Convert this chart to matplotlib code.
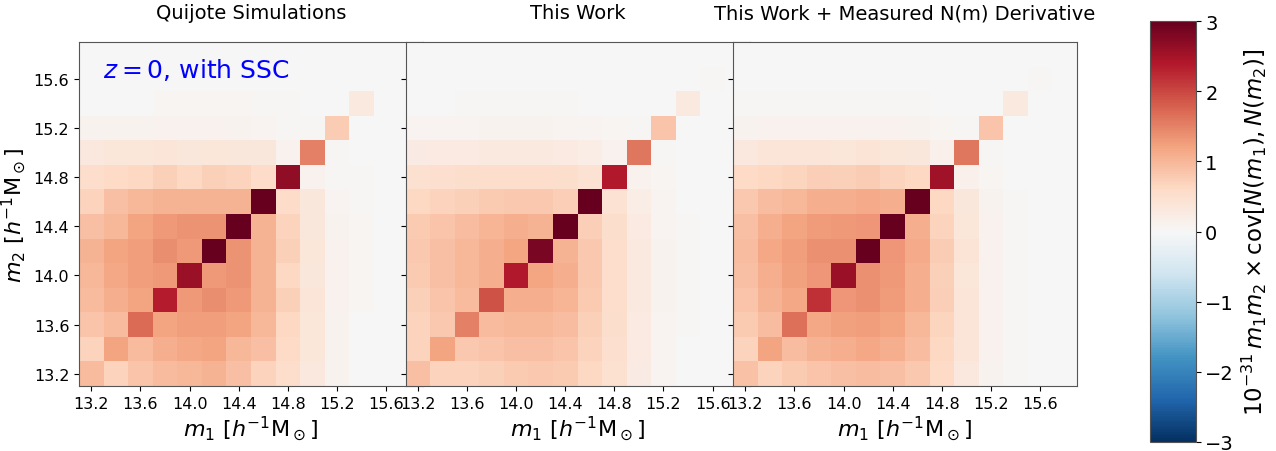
import numpy as np
import matplotlib
matplotlib.use('Agg')
import matplotlib.pyplot as plt

# === Mass bins (log10 m, h^-1 Msun) ===
bin_edges = [13.1, 13.3, 13.5, 13.7, 13.9, 14.1, 14.3, 14.5, 14.7, 14.9, 15.1, 15.3, 15.5, 15.7, 15.9]
tick_values = [13.2, 13.6, 14.0, 14.4, 14.8, 15.2, 15.6]
cbar_ticks = [-3, -2, -1, 0, 1, 2, 3]

panel_titles = ["Quijote Simulations", "This Work", "This Work + Measured N(m) Derivative"]

# lower triangle of each (symmetric) matrix: row i holds columns 0..i, last value is the diagonal
quijote_rows = [
    [0.95],
    [0.70, 1.20],
    [0.85, 0.95, 1.70],
    [0.95, 1.10, 1.20, 2.35],
    [1.00, 1.15, 1.25, 1.30, 2.60],
    [1.05, 1.20, 1.25, 1.40, 1.30, 3.40],
    [0.90, 1.00, 1.20, 1.30, 1.35, 1.35, 3.30],
    [0.70, 0.90, 1.00, 1.05, 1.05, 1.05, 1.05, 3.10],
    [0.55, 0.60, 0.62, 0.72, 0.62, 0.72, 0.68, 0.58, 2.65],
    [0.32, 0.36, 0.36, 0.38, 0.34, 0.36, 0.35, 0.35, 0.12, 1.50],
    [0.10, 0.10, 0.11, 0.12, 0.12, 0.12, 0.11, 0.08, 0.03, 0.04, 0.75],
    [0.02, 0.02, 0.02, 0.05, 0.05, 0.05, 0.05, 0.04, 0.03, 0.02, 0.00, 0.30],
    [0.00, 0.00, 0.00, 0.02, 0.02, 0.02, 0.02, 0.02, 0.01, 0.00, 0.00, 0.00, 0.02],
    [0.00, 0.00, 0.00, 0.00, 0.00, 0.00, 0.00, 0.00, 0.00, 0.00, 0.00, 0.00, 0.00, 0.00],
]

this_work_rows = [
    [0.90],
    [0.68, 1.20],
    [0.70, 0.80, 1.50],
    [0.72, 0.85, 0.95, 1.90],
    [0.78, 0.90, 1.00, 1.10, 2.40],
    [0.80, 0.90, 1.00, 1.10, 1.18, 2.85],
    [0.78, 0.86, 0.93, 1.03, 1.08, 1.05, 3.20],
    [0.62, 0.68, 0.72, 0.78, 0.82, 0.80, 0.74, 3.10],
    [0.48, 0.50, 0.52, 0.54, 0.56, 0.55, 0.52, 0.46, 2.40],
    [0.25, 0.27, 0.28, 0.29, 0.30, 0.29, 0.27, 0.22, 0.12, 1.60],
    [0.08, 0.09, 0.09, 0.10, 0.10, 0.10, 0.09, 0.08, 0.05, 0.03, 0.85],
    [0.02, 0.02, 0.03, 0.03, 0.03, 0.03, 0.03, 0.02, 0.02, 0.01, 0.01, 0.30],
    [0.01, 0.01, 0.01, 0.01, 0.01, 0.01, 0.01, 0.01, 0.00, 0.00, 0.00, 0.00, 0.04],
    [0.00, 0.00, 0.00, 0.00, 0.00, 0.00, 0.00, 0.00, 0.00, 0.00, 0.00, 0.00, 0.00, 0.01],
]

measured_rows = [
    [0.88],
    [0.70, 1.20],
    [0.78, 0.92, 1.65],
    [0.86, 1.05, 1.17, 2.20],
    [0.90, 1.10, 1.23, 1.32, 2.60],
    [0.92, 1.15, 1.25, 1.38, 1.37, 3.10],
    [0.90, 1.08, 1.20, 1.28, 1.30, 1.32, 3.30],
    [0.80, 0.92, 1.00, 1.10, 1.10, 1.13, 1.08, 3.10],
    [0.60, 0.63, 0.67, 0.73, 0.72, 0.77, 0.70, 0.62, 2.55],
    [0.32, 0.38, 0.38, 0.38, 0.37, 0.40, 0.37, 0.35, 0.15, 1.60],
    [0.10, 0.12, 0.12, 0.12, 0.12, 0.12, 0.12, 0.11, 0.06, 0.03, 0.85],
    [0.03, 0.03, 0.04, 0.04, 0.04, 0.04, 0.04, 0.03, 0.02, 0.01, 0.01, 0.30],
    [0.01, 0.01, 0.01, 0.01, 0.01, 0.01, 0.01, 0.01, 0.01, 0.01, 0.01, 0.01, 0.04],
    [0.00, 0.00, 0.00, 0.00, 0.00, 0.00, 0.00, 0.00, 0.00, 0.00, 0.00, 0.00, 0.00, 0.01],
]


def build_matrix(rows):
    n = len(rows)
    mat = np.zeros((n, n))
    for i, r in enumerate(rows):
        for j, v in enumerate(r):
            mat[i, j] = v
            mat[j, i] = v
    return mat


matrices = [build_matrix(quijote_rows), build_matrix(this_work_rows), build_matrix(measured_rows)]

# === Figure ===
W, H = 1276, 452
fig = plt.figure(figsize=(W / 100, H / 100), dpi=100)

# square panels, each one drawn over the right edge of the previous one
size = 344
lefts = [79, 405.5, 733]
bottom = (H - 387) / H
mass_label = r'$m_1\ [h^{-1}\mathrm{M}_\odot]$'

for k in range(3):
    ax = fig.add_axes([lefts[k] / W, bottom, size / W, size / H])
    mesh = ax.pcolormesh(bin_edges, bin_edges, matrices[k], cmap='RdBu_r', vmin=-3, vmax=3)
    ax.set_xlim(bin_edges[0], bin_edges[-1])
    ax.set_ylim(bin_edges[0], bin_edges[-1])
    ax.set_xticks(tick_values)
    ax.set_yticks(tick_values)
    ax.tick_params(labelsize=11.5)
    for s in ax.spines.values():
        s.set_edgecolor('#555555')
    ax.set_title(panel_titles[k], fontsize=14, pad=17)
    ax.set_xlabel(mass_label, fontsize=16, labelpad=2)
    if k == 0:
        ax.set_ylabel(r'$m_2\ [h^{-1}\mathrm{M}_\odot]$', fontsize=16, labelpad=4)
        ax.text(0.07, 0.921, r'$z = 0$, with SSC', transform=ax.transAxes,
                color='blue', fontsize=18, va='center', ha='left')
    else:
        ax.set_yticklabels([])

# === Colorbar ===
cax = fig.add_axes([1150 / W, (H - 443) / H, 45.5 / W, 421 / H])
cb = fig.colorbar(mesh, cax=cax, ticks=cbar_ticks)
cb.ax.tick_params(labelsize=14)
cb.outline.set_edgecolor('#555555')
cb.set_label(r'$10^{-31}\,m_1 m_2 \times \mathrm{cov}[N(m_1), N(m_2)]$', fontsize=16.5, labelpad=4)

plt.savefig('out.png', dpi=100)
